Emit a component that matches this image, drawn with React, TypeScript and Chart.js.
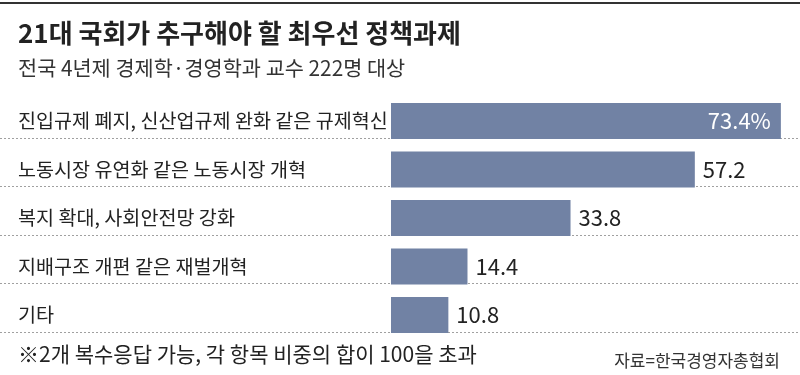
import React, { useEffect, useRef } from 'react';
import { Chart, registerables } from 'chart.js';

Chart.register(...registerables);

const categories = [
  '진입규제 폐지, 신산업규제 완화 같은 규제혁신',
  '노동시장 유연화 같은 노동시장 개혁',
  '복지 확대, 사회안전망 강화',
  '지배구조 개편 같은 재벌개혁',
  '기타',
];
const values = [73.4, 57.2, 33.8, 14.4, 10.8];
const valueLabels = ['73.4%', '57.2', '33.8', '14.4', '10.8'];
const titleText = '21대 국회가 추구해야 할 최우선 정책과제';
const subtitleText = '전국 4년제 경제학·경영학과 교수 222명 대상';
const footnoteText = '※2개 복수응답 가능, 각 항목 비중의 합이 100을 초과';
const sourceText = '자료=한국경영자총협회';

const FONT = '"Noto Sans CJK KR", "Noto Sans", sans-serif';
const BAR_COLOR = '#7182a4';
const TEXT_COLOR = '#222222';

const decor = {
  id: 'decor',
  beforeDraw(chart: any) {
    const ctx = chart.ctx;
    ctx.save();
    ctx.fillStyle = '#ffffff';
    ctx.fillRect(0, 0, chart.width, chart.height);
    // top rule
    ctx.fillStyle = '#333333';
    ctx.fillRect(0, 2, chart.width, 2);
    // title
    ctx.fillStyle = TEXT_COLOR;
    ctx.textAlign = 'left';
    ctx.textBaseline = 'middle';
    ctx.font = `bold 26px ${FONT}`;
    ctx.fillText(titleText, 18, 33);
    ctx.font = `20.8px ${FONT}`;
    ctx.fillStyle = '#333333';
    ctx.fillText(subtitleText, 18, 68);
    // footer
    ctx.font = `21px ${FONT}`;
    ctx.fillStyle = TEXT_COLOR;
    ctx.fillText(footnoteText, 18, 354);
    ctx.font = `17px ${FONT}`;
    ctx.fillStyle = '#333333';
    ctx.textAlign = 'right';
    ctx.fillText(sourceText, 780, 361);
    ctx.restore();
  },
  beforeDatasetsDraw(chart: any) {
    const ctx = chart.ctx;
    const meta = chart.getDatasetMeta(0);
    ctx.save();
    ctx.strokeStyle = '#a0a0a0';
    ctx.lineWidth = 1;
    ctx.setLineDash([2, 2]);
    meta.data.forEach((bar: any) => {
      const p = bar.getProps(['y', 'height'], true);
      const yy = Math.round(p.y + p.height / 2) - 0.5;
      ctx.beginPath();
      ctx.moveTo(0, yy);
      ctx.lineTo(chart.width, yy);
      ctx.stroke();
    });
    ctx.restore();
  },
  afterDatasetsDraw(chart: any) {
    const ctx = chart.ctx;
    const meta = chart.getDatasetMeta(0);
    ctx.save();
    ctx.font = `22px ${FONT}`;
    ctx.textBaseline = 'alphabetic';
    meta.data.forEach((bar: any, i: number) => {
      const p = bar.getProps(['x', 'y'], true);
      const by = p.y + 8;
      if (i === 0) {
        ctx.fillStyle = '#ffffff';
        ctx.textAlign = 'right';
        ctx.fillText(valueLabels[i], p.x - 10, by);
      } else {
        ctx.fillStyle = TEXT_COLOR;
        ctx.textAlign = 'left';
        ctx.fillText(valueLabels[i], p.x + 8, by);
      }
    });
    ctx.restore();
  },
};

export default function App() {
  const ref = useRef<HTMLCanvasElement | null>(null);
  useEffect(() => {
    if (!ref.current) return;
    const chart = new Chart(ref.current, {
      type: 'bar',
      data: {
        labels: categories,
        datasets: [
          {
            data: values,
            backgroundColor: BAR_COLOR,
            borderWidth: 0,
            barPercentage: 0.742,
            categoryPercentage: 1,
          },
        ],
      },
      options: {
        indexAxis: 'y',
        responsive: false,
        animation: false,
        devicePixelRatio: 1,
        layout: { padding: { left: 18, right: 0, top: 96.75, bottom: 35.75 } },
        plugins: {
          legend: { display: false },
          tooltip: { enabled: false },
        },
        scales: {
          x: { display: false, min: 0, max: 77 },
          y: {
            grid: { display: false, drawTicks: false },
            border: { display: false },
            ticks: {
              crossAlign: 'far',
              color: TEXT_COLOR,
              font: { family: FONT, size: 19.6 },
              padding: 0,
            },
            afterFit(scale: any) {
              scale.width = 373;
            },
          },
        },
      },
      plugins: [decor],
    } as any);
    return () => chart.destroy();
  }, []);
  return (
    <div style={{ position: 'absolute', left: 0, top: 0, width: 800, height: 375, background: '#fff' }}>
      <canvas ref={ref} width={800} height={375} style={{ display: 'block', width: 800, height: 375 }} />
    </div>
  );
}
